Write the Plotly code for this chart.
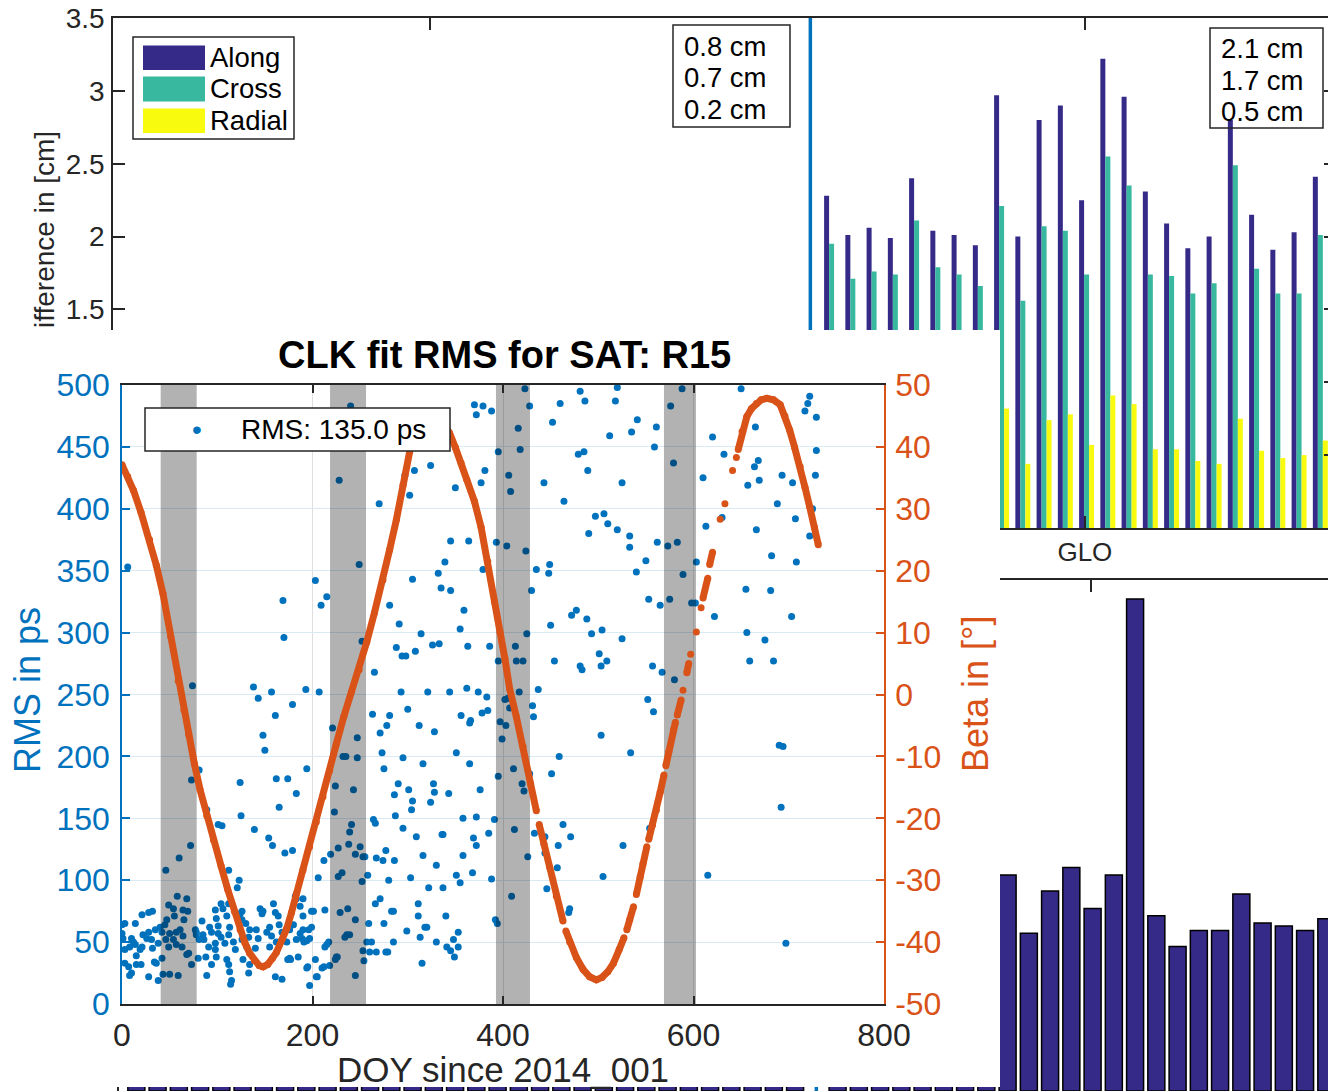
import plotly.graph_objects as go

# ------------------------------------------------------------------ data
# upper panel: mean orbit difference per satellite, three components (cm)
sys_tick_pos = [14.1, 44.92]
sys_tick_txt = ["", "GLO"]
separator_idx = 32

gps_idx = list(range(0, 32))
glo_idx = list(range(33, 57))

gps_along = [0.87, 0.82, 0.75, 0.91, 0.68, 0.79, 1.05, 0.72, 0.84, 0.77, 0.93, 0.66,
             0.81, 0.88, 0.74, 0.97, 0.70, 0.83, 0.79, 1.12, 0.76, 0.85, 0.69,
             0.80, 0.90, 0.73, 0.78, 0.86, 0.71, 0.95, 0.77, 0.84]
gps_cross = [0.74, 0.71, 0.66, 0.78, 0.60, 0.69, 0.88, 0.63, 0.72, 0.67, 0.80, 0.58,
             0.70, 0.75, 0.65, 0.83, 0.61, 0.72, 0.68, 0.94, 0.66, 0.74, 0.60,
             0.69, 0.78, 0.64, 0.68, 0.75, 0.62, 0.81, 0.67, 0.73]
gps_radial = [0.23, 0.21, 0.18, 0.24, 0.17, 0.20, 0.27, 0.19, 0.22, 0.20, 0.23, 0.16,
              0.21, 0.22, 0.19, 0.25, 0.18, 0.21, 0.20, 0.29, 0.19, 0.22, 0.17,
              0.20, 0.23, 0.18, 0.20, 0.22, 0.18, 0.24, 0.19, 0.21]

glo_along = [2.28, 2.01, 2.06, 1.99, 2.40, 2.04, 2.01, 1.94, 2.97, 2.00, 2.80, 2.90,
             2.25, 3.22, 2.96, 2.31, 2.09, 1.92, 2.00, 2.80, 2.15, 1.91, 2.03, 2.41]
glo_cross = [1.95, 1.71, 1.76, 1.74, 2.11, 1.79, 1.74, 1.66, 2.21, 1.56, 2.07, 2.04,
             1.74, 2.55, 2.35, 1.74, 1.73, 1.61, 1.68, 2.49, 1.78, 1.61, 1.61, 2.01]
glo_radial = [0.52, 0.47, 0.55, 0.44, 0.61, 0.49, 0.46, 0.43, 0.82, 0.44, 0.74, 0.78,
              0.57, 0.91, 0.85, 0.54, 0.54, 0.46, 0.44, 0.75, 0.53, 0.48, 0.50, 0.60]

mean_gps_txt = ["0.8 cm", "0.7 cm", "0.2 cm"]
mean_glo_txt = ["2.1 cm", "1.7 cm", "0.5 cm"]

# lower panel: single value per satellite
total_gps = [0.65, 0.62, 0.58, 0.71, 0.55, 0.64, 0.80, 0.57, 0.66, 0.61, 0.73, 0.52,
             0.63, 0.69, 0.59, 0.76, 0.56, 0.65, 0.62, 0.88, 0.60, 0.67, 0.54,
             0.63, 0.71, 0.58, 0.62, 0.68, 0.56, 0.74, 0.61, 0.66]
total_glo = [1.38, 1.21, 1.26, 1.19, 1.52, 1.25, 1.22, 1.15, 1.48, 1.08, 1.37, 1.53,
             1.25, 1.48, 3.37, 1.20, 0.99, 1.10, 1.10, 1.35, 1.15, 1.13, 1.10, 1.18]

# clock fit RMS per day (DOY since 2014_001, ps)
rms_points = [
    (6, 353), (74, 257), (138, 256), (143, 247), (157, 252), (169, 326), (170, 296),
    (193, 254), (203, 342), (207, 252), (209, 322), (215, 329), (228, 423), (240, 483),
    (249, 355), (252, 293), (265, 268), (270, 404), (281, 322), (291, 307), (288, 288),
    (294, 281), (298, 281), (293, 252), (297, 427), (302, 411), (307, 431), (305, 343),
    (308, 285), (314, 299), (321, 252), (324, 435), (326, 290), (333, 291), (332, 348),
    (335, 336), (339, 357), (345, 334), (344, 252), (345, 374), (350, 417), (355, 303),
    (359, 318), (363, 289), (362, 255), (364, 374), (370, 484), (379, 483), (372, 476),
    (388, 479), (377, 421), (381, 431), (379, 351), (386, 289), (374, 252), (383, 248),
    (393, 373), (395, 446), (395, 277),
    (404, 370), (406, 427), (408, 414), (416, 465), (418, 448), (423, 497), (428, 483),
    (424, 366), (430, 334), (425, 299), (413, 289), (414, 277), (421, 277), (417, 252),
    (435, 351), (437, 254), (443, 421), (449, 355), (448, 348), (450, 306), (454, 277),
    (452, 470), (460, 485), (464, 406), (472, 314), (477, 318), (481, 495), (486, 487),
    (479, 444), (485, 446), (489, 431), (488, 311), (490, 380), (493, 299), (497, 394),
    (501, 283), (504, 302), (506, 396), (510, 388), (509, 277), (503, 273), (512, 459),
    (518, 487), (520, 498), (525, 421), (520, 383), (525, 295), (533, 378), (533, 369),
    (535, 462), (541, 472), (540, 349), (550, 358), (553, 327), (557, 273), (565, 322),
    (567, 268), (559, 450), (561, 466), (562, 373), (573, 370), (576, 483), (579, 437),
    (583, 373), (575, 327), (580, 262), (588, 497), (589, 347), (598, 324), (602, 324),
    (603, 357), (610, 425), (613, 386), (620, 458), (622, 313), (630, 393), (632, 444),
    (650, 497), (655, 335), (656, 300), (659, 277), (657, 419), (664, 434), (668, 439),
    (669, 423), (665, 466), (666, 383), (675, 294), (681, 334), (682, 362), (684, 277),
    (688, 404), (693, 427), (703, 313), (704, 421), (707, 392), (708, 357), (717, 479),
    (720, 485), (722, 491), (729, 474), (729, 447), (728, 427), (722, 378), (725, 400),
    (481, 273), (483, 270),
    (378, 235), (384, 237), (402, 246), (405, 247), (407, 239), (397, 228), (403, 225),
    (399, 214), (431, 241), (432, 232), (411, 190), (395, 184), (420, 178), (422, 172),
    (428, 186), (451, 186), (459, 200), (376, 173), (391, 149), (385, 138), (412, 141),
    (433, 138), (444, 135), (463, 145), (471, 135), (458, 128), (444, 122), (426, 119),
    (457, 110), (388, 101), (446, 93), (409, 87), (470, 77), (469, 74), (392, 68),
    (394, 65), (503, 217), (534, 203), (552, 246), (558, 236), (526, 128), (505, 103),
    (554, 142), (615, 104), (690, 209), (694, 208), (692, 159), (697, 49),
    (179, 242), (161, 233), (148, 217), (150, 205), (194, 190), (124, 179), (162, 182),
    (174, 182), (183, 170), (165, 159), (73, 181), (81, 189), (89, 157), (101, 145),
    (105, 144), (125, 152), (139, 141), (154, 134), (158, 128), (171, 122), (179, 124),
    (72, 128), (60, 118), (46, 108), (112, 108), (123, 100), (121, 94), (190, 85),
    (206, 102), (221, 223), (247, 215), (232, 200), (235, 200), (247, 199), (224, 176),
    (243, 173), (223, 155), (239, 139), (241, 145), (238, 129), (227, 126), (219, 121),
    (250, 127), (245, 121), (253, 119), (255, 119), (212, 116), (231, 106), (252, 99),
    (258, 104), (263, 234), (271, 219), (278, 225), (281, 233), (300, 238), (312, 225),
    (328, 220), (356, 233), (365, 227), (366, 229), (273, 203), (275, 190), (295, 199),
    (316, 194), (351, 203), (365, 194), (290, 178), (301, 173), (327, 178), (328, 171),
    (343, 170), (286, 169), (305, 164), (324, 163), (287, 152), (304, 157), (264, 149),
    (266, 146), (295, 142), (309, 135), (336, 137), (337, 137), (358, 150), (372, 151),
    (369, 134), (372, 128), (277, 124), (286, 116), (267, 118), (274, 116), (316, 120),
    (330, 112), (358, 120), (368, 106), (351, 104), (355, 98), (303, 102), (280, 100),
    (322, 94), (337, 94), (266, 81), (271, 85), (311, 81), (283, 75), (285, 75),
    (259, 65), (275, 65), (299, 59), (311, 71), (340, 71), (318, 62), (320, 62),
    (353, 58), (348, 52), (313, 54), (330, 50), (341, 46), (345, 43), (349, 38),
    (353, 46), (315, 33), (257, 50), (262, 50), (279, 42), (285, 50), (260, 42),
    (267, 42), (277, 42), (254, 35), (245, 68), (237, 77), (229, 74), (236, 56),
    (239, 56), (234, 54), (226, 38), (224, 36), (225, 38), (218, 31), (212, 30),
    (210, 29), (215, 48), (205, 22), (197, 15), (195, 30), (245, 23), (253, 43),
    (187, 79), (190, 71), (112, 81), (145, 77),
    (58, 87), (68, 85), (49, 80), (54, 77), (55, 71), (64, 76), (69, 75), (47, 68),
    (65, 68), (21, 72), (28, 74), (32, 75), (3, 65), (14, 65), (35, 60), (40, 62),
    (45, 64), (42, 58), (57, 58), (61, 60), (50, 57), (64, 55), (77, 60), (78, 56),
    (84, 67), (0, 57), (1, 53), (10, 53), (12, 50), (8, 46), (26, 53), (21, 46),
    (19, 44), (32, 45), (38, 49), (46, 52), (49, 46), (54, 52), (57, 48), (63, 46),
    (70, 41), (68, 40), (42, 37), (36, 33), (15, 39), (3, 33), (7, 30), (8, 23),
    (10, 25), (15, 32), (28, 22), (38, 19), (43, 24), (50, 24), (59, 23), (78, 58),
    (81, 52), (85, 56), (86, 52), (73, 32), (80, 37), (88, 38), (89, 23), (94, 32),
    (99, 38), (91, 46), (98, 49), (98, 44), (94, 58), (101, 57), (104, 54), (101, 63),
    (92, 62), (99, 69), (98, 76), (104, 81), (106, 77), (110, 71), (113, 62), (112, 56),
    (108, 49), (117, 50), (119, 44), (110, 36), (112, 32), (113, 26), (115, 19),
    (114, 16), (126, 75), (124, 73), (126, 68), (130, 65), (134, 60), (133, 54),
    (126, 52), (131, 46), (127, 36), (134, 32), (133, 25), (141, 60), (143, 53),
    (140, 45), (148, 75), (147, 73), (152, 58), (155, 62), (157, 55), (159, 81),
    (161, 74), (164, 71), (165, 64), (168, 58), (162, 50), (155, 46), (176, 60),
    (180, 64), (173, 50), (176, 37), (174, 36), (177, 36), (185, 38), (183, 52),
    (187, 57), (189, 53), (190, 60), (191, 50), (194, 51), (196, 60), (199, 62),
    (197, 53), (199, 75), (201, 75), (182, 87), (183, 85), (194, 29), (161, 22),
    (168, 20), (204, 22), (203, 36), (213, 46), (217, 50), (227, 103), (213, 76),
    (0, 64), (3, 44), (14, 48), (22, 56), (28, 58), (31, 52), (34, 34), (20, 32),
]
rms_label = "RMS: 135.0 ps"

# sun elevation above the orbital plane (deg); (None, None) marks missing days
beta_points = [
    (0, 37.1), (6, 35.2), (12, 33.0), (20, 29.4), (29, 25.0), (36, 20.9), (43, 16.3),
    (51, 9.4), (59, 2.2), (65, -2.5), (70, -6.5), (76, -11.2), (82, -15.4), (89, -19.6),
    (96, -23.5), (104, -27.7), (111, -31.5), (118, -35.0), (124, -38.0), (129, -40.1),
    (134, -41.8), (139, -43.0), (144, -43.8), (148, -44.0), (153, -43.6), (158, -42.6),
    (162, -41.7), (168, -39.6), (173, -37.8), (178, -35.2), (183, -32.2), (190, -28.4),
    (197, -24.6), (204, -20.6), (211, -16.5), (218, -12.3), (225, -8.0), (233, -3.5),
    (241, 0.5), (249, 4.0), (257, 8.5), (265, 13.2), (274, 18.5), (281, 23.4),
    (288, 28.2), (295, 33.8), (302, 39.2), (309, 42.8), (316, 44.8), (323, 45.5),
    (330, 45.2), (337, 44.0), (344, 42.2), (350, 39.9), (356, 37.4), (362, 34.7),
    (370, 31.2), (377, 27.0), (384, 21.5), (391, 15.0), (397, 10.0), (402, 5.8),
    (407, 0.9), (414, -3.6), (421, -8.4), (429, -14.4), (435, -18.8), (None, None),
    (438, -21.0), (443, -24.2), (449, -27.9), (456, -32.6), (463, -36.6), (None, None),
    (466, -38.2), (470, -40.0), (477, -42.5), (484, -44.4), (491, -45.6), (498, -46.1),
    (504, -45.7), (510, -44.8), (516, -43.4), (522, -41.2), (527, -39.3), (None, None),
    (530, -38.0), (533, -36.4), (537, -34.3), (None, None),
    (540, -32.3), (544, -29.5), (547, -27.3), (551, -24.6), (None, None),
    (553, -23.4), (557, -21.1), (561, -18.7), (565, -15.8), (569, -13.0), (None, None),
    (571, -11.5), (574, -9.3), (579, -5.7), (581, -4.5), (None, None),
    (583, -3.3), (587, -0.9), (None, None), (589, 0.7), (None, None),
    (593, 3.5), (595, 5.0), (None, None), (597, 6.5), (None, None), (603, 10.1),
    (None, None), (608, 14.0), (None, None), (610, 15.6), (615, 18.8), (None, None),
    (617, 21.0), (620, 23.0), (None, None), (628, 28.3), (None, None), (633, 30.8),
    (None, None), (641, 36.2), (None, None), (645, 38.3), (None, None),
    (647, 39.6), (651, 42.5), (656, 44.9), (661, 46.2), (666, 47.0), (671, 47.6),
    (677, 47.85), (684, 47.6), (691, 46.8), (696, 45.0), (701, 42.7), (706, 40.0),
    (712, 36.8), (717, 33.5), (722, 30.3), (727, 27.0), (731, 24.2),
]

# eclipse seasons (DOY)
eclipse_start = [40.6, 218.4, 392.6, 569.0]
eclipse_end = [78.4, 256.2, 428.3, 602.6]

doy_ticks = [0, 200, 400, 600, 800]
rms_ticks = list(range(0, 501, 50))
beta_ticks = list(range(-50, 51, 10))
cm_ticks = [0, 0.5, 1, 1.5, 2, 2.5, 3, 3.5]
cm_tick_txt = ["", "", "", "1.5", "2", "2.5", "3", "3.5"]

# ------------------------------------------------------------------ style
W, H = 1328, 1091
FONT = "Liberation Sans, Arial, Helvetica, sans-serif"
AX = "#262626"
BLUE = "#0072BD"
ORANGE = "#D95319"
ALONG = "#352A87"
CROSS = "#38B89E"
RADIAL = "#F9FB0E"


def fx(p):
    return p / W


def fy(p):
    return 1 - p / H


fig = go.Figure()

# ---- upper panel: grouped component bars
all_idx = gps_idx + glo_idx
for vals, color, off, name in [
    (gps_along + glo_along, ALONG, -0.3525, "Along"),
    (gps_cross + glo_cross, CROSS, -0.1175, "Cross"),
    (gps_radial + glo_radial, RADIAL, 0.1175, "Radial"),
]:
    fig.add_trace(go.Bar(x=all_idx, y=vals, width=0.235, offset=off, name=name,
                         marker=dict(color=color, line=dict(width=0)),
                         xaxis="x", yaxis="y", showlegend=False, hoverinfo="skip"))
fig.add_trace(go.Scatter(x=[separator_idx, separator_idx], y=[0, 3.5], mode="lines",
                         line=dict(color=BLUE, width=3.5), xaxis="x", yaxis="y",
                         showlegend=False, hoverinfo="skip"))
fig.add_trace(go.Scatter(x=[None], y=[None], xaxis="x", yaxis="y6",
                         showlegend=False, hoverinfo="skip"))

# ---- lower panel: single bars
fig.add_trace(go.Bar(x=all_idx, y=total_gps + total_glo, width=0.8,
                     marker=dict(color=ALONG, line=dict(color="#000000", width=1.5)),
                     xaxis="x2", yaxis="y2", showlegend=False, hoverinfo="skip"))
fig.add_trace(go.Scatter(x=[separator_idx, separator_idx], y=[0, 3.5], mode="lines",
                         line=dict(color=BLUE, width=3.5), xaxis="x2", yaxis="y2",
                         showlegend=False, hoverinfo="skip"))

# ---- opaque backing for the clock figure
fig.add_trace(go.Scatter(x=[0.5], y=[0.5], mode="markers", marker=dict(opacity=0),
                         xaxis="x3", yaxis="y3", showlegend=False, hoverinfo="skip"))

# ---- clock fit RMS figure
fig.add_trace(go.Scatter(x=[p[0] for p in rms_points], y=[p[1] for p in rms_points],
                         mode="markers", name=rms_label,
                         marker=dict(color=BLUE, size=7, line=dict(width=0)),
                         xaxis="x4", yaxis="y4", showlegend=False, hoverinfo="skip"))
for x0, x1 in zip(eclipse_start, eclipse_end):
    fig.add_trace(go.Scatter(x=[x0, x1, x1, x0, x0], y=[0, 0, 500, 500, 0],
                             mode="lines", fill="toself",
                             fillcolor="rgba(0,0,0,0.30)", line=dict(width=0),
                             xaxis="x4", yaxis="y4", showlegend=False,
                             hoverinfo="skip"))
fig.add_trace(go.Scatter(x=[p[0] for p in beta_points], y=[p[1] for p in beta_points],
                         mode="lines+markers", connectgaps=False,
                         line=dict(color=ORANGE, width=7),
                         marker=dict(color=ORANGE, size=7),
                         xaxis="x4", yaxis="y5", showlegend=False, hoverinfo="skip"))

# ------------------------------------------------------------------ axes
x_lo = -0.816
px_per_idx = 21.25

common_tick = dict(ticks="inside", tickcolor=AX, tickwidth=1.5, showgrid=False,
                   zeroline=False, automargin=False)

layout_axes = dict(
    xaxis=dict(domain=[fx(113), 1.0], range=[x_lo, x_lo + (W - 113) / px_per_idx],
               anchor="y", tickvals=sys_tick_pos, ticktext=sys_tick_txt, ticklen=12,
               showline=True, linecolor=AX, linewidth=1.5, mirror="ticks",
               tickfont=dict(size=26, color=AX), ticklabelstandoff=0, **common_tick),
    yaxis=dict(domain=[fy(528), fy(18)], range=[0, 3.5], anchor="x",
               tickvals=cm_ticks, ticktext=cm_tick_txt, ticklen=12, showline=True,
               linecolor=AX, linewidth=1.5, tickfont=dict(size=28, color=AX),
               ticklabelstandoff=1, **common_tick),
    yaxis6=dict(overlaying="y", anchor="x", side="right", range=[0, 3.5],
                tickvals=cm_ticks, ticklen=4, showticklabels=False, showline=False,
                **common_tick),
    xaxis2=dict(domain=[fx(119), 1.0], range=[x_lo, x_lo + (W - 119) / px_per_idx],
                anchor="y2", side="top", tickvals=sys_tick_pos, ticklen=12,
                showticklabels=False, showline=True, linecolor=AX, linewidth=1.5,
                **common_tick),
    yaxis2=dict(domain=[0, fy(580)], range=[0, 3.5], anchor="x2", tickvals=cm_ticks,
                ticklen=12, showticklabels=False, showline=True, linecolor=AX,
                linewidth=1.5, **common_tick),
    xaxis3=dict(domain=[0, fx(1000)], range=[0, 1], anchor="y3", visible=False,
                automargin=False),
    yaxis3=dict(domain=[fy(1087), fy(330)], range=[0, 1], anchor="x3", visible=False,
                automargin=False),
    xaxis4=dict(domain=[fx(122), fx(884)], range=[0, 800], anchor="y4",
                tickvals=doy_ticks, ticktext=[str(v) for v in doy_ticks], ticklen=8,
                ticks="inside", tickcolor=AX, tickwidth=1.5, showline=True,
                linecolor=AX, linewidth=1.5, mirror="ticks", showgrid=True,
                gridcolor="#dedede", gridwidth=1, zeroline=False, automargin=False,
                tickfont=dict(size=32, color=AX), ticklabelstandoff=2),
    yaxis4=dict(domain=[fy(1004), fy(385)], range=[0, 500], anchor="x4",
                tickvals=rms_ticks, ticktext=[str(v) for v in rms_ticks], ticklen=8,
                ticks="inside", tickcolor=BLUE, tickwidth=1.5, showline=True,
                linecolor=BLUE, linewidth=1.5, showgrid=True,
                gridcolor="rgb(217,234,245)", gridwidth=1, zeroline=False,
                automargin=False,
                tickfont=dict(size=32, color=BLUE), ticklabelstandoff=4),
    yaxis5=dict(overlaying="y4", anchor="x4", side="right", range=[-50, 50],
                tickvals=beta_ticks, ticktext=[str(v) for v in beta_ticks], ticklen=8,
                ticks="inside", tickcolor=ORANGE, tickwidth=1.5, showline=True,
                linecolor=ORANGE, linewidth=1.5, showgrid=False, zeroline=False,
                automargin=False,
                tickfont=dict(size=32, color=ORANGE), ticklabelstandoff=3),
)

# ------------------------------------------------------------------ texts / boxes
annotations = []
shapes = []


def add_text(text, px, py, size, color="#000000", xanchor="left", angle=0):
    annotations.append(dict(text=text, x=fx(px), y=fy(py), xref="paper", yref="paper",
                            xanchor=xanchor, yanchor="middle", showarrow=False,
                            textangle=angle, font=dict(family=FONT, size=size,
                                                       color=color)))


def add_rect(x0, y0, x1, y1, fill=None, line_color=AX, line_width=1.5):
    shapes.append(dict(type="rect", xref="paper", yref="paper", layer="above",
                       x0=fx(x0), x1=fx(x1), y0=fy(y1), y1=fy(y0),
                       fillcolor=fill if fill else "rgba(0,0,0,0)",
                       line=dict(color=line_color, width=line_width)))


# component legend of the upper panel
add_rect(133, 37, 294, 139, fill="#ffffff")
for (name, color), (top, bot) in zip(
        [("Along", ALONG), ("Cross", CROSS), ("Radial", RADIAL)],
        [(45.5, 70), (76.5, 101.5), (108.5, 133)]):
    add_rect(143, top, 205, bot, fill=color, line_width=0)
    add_text(name, 208, (top + bot) / 2 - 0.5, 27.5)

# mean values per system
add_rect(673, 25, 790, 127)
for t, py in zip(mean_gps_txt, [46, 77.5, 109]):
    add_text(t, 682, py, 27.5)
add_rect(1210, 28, 1323, 128)
for t, py in zip(mean_glo_txt, [49, 80.5, 112]):
    add_text(t, 1219, py, 27.5)

add_text("ifference in [cm]", 44, 230, 28, color=AX, xanchor="center", angle=-90)

# legend of the clock figure
add_rect(145, 408, 450, 451, fill="#ffffff", line_width=1.5)
add_text("\u2022", 197, 429, 28, color=BLUE, xanchor="center")
add_text(rms_label, 239, 430, 28)

# clock figure labels
add_text("<b>CLK fit RMS for SAT: R15</b>", 504, 355, 38, xanchor="center")
add_text("RMS in ps", 27, 690, 36, color=BLUE, xanchor="center", angle=-90)
add_text("Beta in [°]", 975, 694, 36, color=ORANGE, xanchor="center", angle=-90)
add_text("DOY since 2014_001", 503, 1069, 35, color=AX, xanchor="center")

fig.update_layout(
    width=W, height=H, autosize=False,
    margin=dict(l=0, r=0, t=0, b=0, pad=0, autoexpand=False),
    paper_bgcolor="#ffffff", plot_bgcolor="#ffffff",
    font=dict(family=FONT, size=26, color=AX),
    barmode="overlay", hovermode=False,
    showlegend=False,
    annotations=annotations, shapes=shapes,
    **layout_axes,
)

fig.write_html("out.html")
